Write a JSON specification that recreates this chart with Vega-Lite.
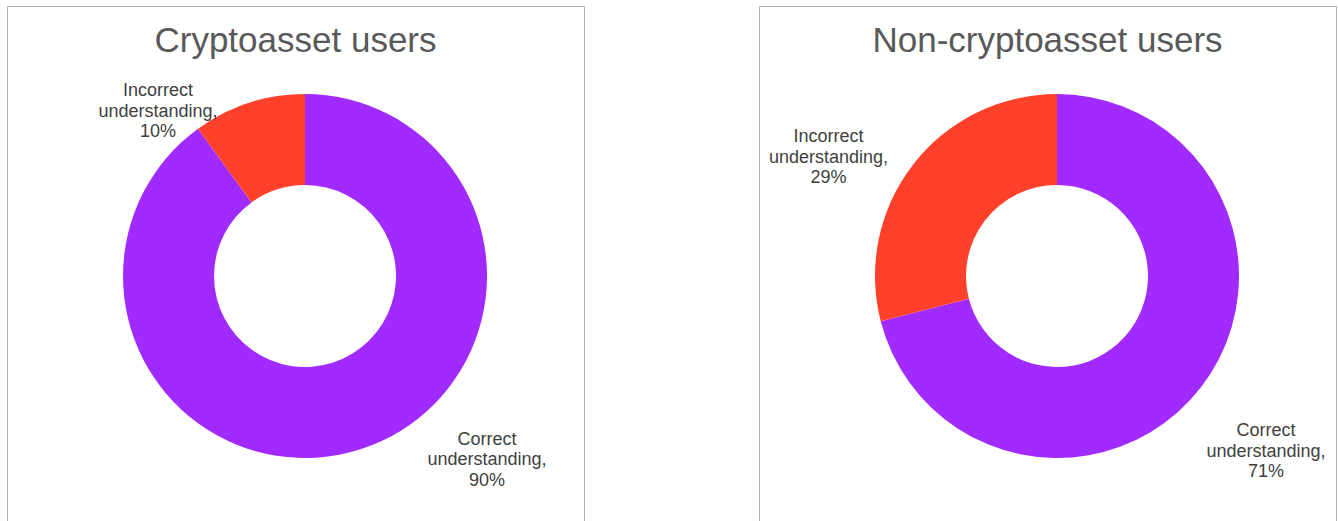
{
  "$schema": "https://vega.github.io/schema/vega-lite/v6.json",
  "padding": {"left": 6, "top": 5, "right": 0, "bottom": 0},
  "spacing": 173,
  "background": "white",
  "config": {
    "view": {"stroke": "#b4b4b4", "strokeWidth": 1},
    "style": {"cell": {"stroke": "#b4b4b4", "strokeWidth": 1}, "view": {"stroke": "#b4b4b4", "strokeWidth": 1}},
    "text": {"font": "Liberation Sans"}
  },
  "datasets": {
    "shares": [
      {"group": "Cryptoasset users", "category": "Correct understanding", "share": 90},
      {"group": "Cryptoasset users", "category": "Incorrect understanding", "share": 10},
      {"group": "Non-cryptoasset users", "category": "Correct understanding", "share": 71},
      {"group": "Non-cryptoasset users", "category": "Incorrect understanding", "share": 29}
    ]
  },
  "hconcat": [
    {
      "width": 577,
      "height": 540,
      "view": {"stroke": "#b4b4b4", "strokeWidth": 1},
      "data": {"name": "shares"},
      "transform": [
        {"filter": "datum.group === 'Cryptoasset users'"},
        {"stack": "share", "groupby": ["group"], "sort": [{"field": "category", "order": "ascending"}], "as": ["s0", "s1"]},
        {"calculate": "(datum.s0 + datum.s1) / 2", "as": "mid"},
        {"calculate": "[split(datum.category, ' ')[0], split(datum.category, ' ')[1] + ',', datum.share + '%']", "as": "label"}
      ],
      "layer": [
        {
          "transform": [{"filter": "datum.category === 'Correct understanding'"}],
          "mark": {"type": "text", "fontSize": 35, "color": "#595959", "dy": -235, "align": "center", "baseline": "middle"},
          "encoding": {"text": {"field": "group", "type": "nominal"}}
        },
        {
          "mark": {"type": "arc", "innerRadius": 91, "outerRadius": 182, "xOffset": 9.5},
          "encoding": {
            "theta": {"field": "s0", "type": "quantitative", "stack": null, "scale": {"domain": [0, 100]}},
            "theta2": {"field": "s1"},
            "color": {"field": "category", "type": "nominal", "legend": null, "scale": {"domain": ["Correct understanding", "Incorrect understanding"], "range": ["#A12BFF", "#FF412C"]}}
          }
        },
        {
          "transform": [{"filter": "datum.category === 'Incorrect understanding'"}],
          "mark": {"type": "text", "fontSize": 18, "lineHeight": 20.5, "color": "#404040", "radius": 222, "dx": -68.9, "dy": 26.6, "align": "center", "baseline": "middle"},
          "encoding": {
            "theta": {"field": "mid", "type": "quantitative", "stack": null, "scale": {"domain": [0, 100]}},
            "text": {"field": "label", "type": "nominal"}
          }
        },
        {
          "transform": [{"filter": "datum.category === 'Correct understanding'"}],
          "mark": {"type": "text", "fontSize": 18, "lineHeight": 20.5, "color": "#404040", "radius": 258, "dx": 111.8, "dy": -81.4, "align": "center", "baseline": "middle"},
          "encoding": {
            "theta": {"field": "mid", "type": "quantitative", "stack": null, "scale": {"domain": [0, 100]}},
            "text": {"field": "label", "type": "nominal"}
          }
        }
      ]
    },
    {
      "width": 577,
      "height": 540,
      "view": {"stroke": "#b4b4b4", "strokeWidth": 1},
      "data": {"name": "shares"},
      "transform": [
        {"filter": "datum.group === 'Non-cryptoasset users'"},
        {"stack": "share", "groupby": ["group"], "sort": [{"field": "category", "order": "ascending"}], "as": ["s0", "s1"]},
        {"calculate": "(datum.s0 + datum.s1) / 2", "as": "mid"},
        {"calculate": "[split(datum.category, ' ')[0], split(datum.category, ' ')[1] + ',', datum.share + '%']", "as": "label"}
      ],
      "layer": [
        {
          "transform": [{"filter": "datum.category === 'Correct understanding'"}],
          "mark": {"type": "text", "fontSize": 35, "color": "#595959", "dy": -235, "align": "center", "baseline": "middle"},
          "encoding": {"text": {"field": "group", "type": "nominal"}}
        },
        {
          "mark": {"type": "arc", "innerRadius": 91, "outerRadius": 182, "xOffset": 9.5},
          "encoding": {
            "theta": {"field": "s0", "type": "quantitative", "stack": null, "scale": {"domain": [0, 100]}},
            "theta2": {"field": "s1"},
            "color": {"field": "category", "type": "nominal", "legend": null, "scale": {"domain": ["Correct understanding", "Incorrect understanding"], "range": ["#A12BFF", "#FF412C"]}}
          }
        },
        {
          "transform": [{"filter": "datum.category === 'Incorrect understanding'"}],
          "mark": {"type": "text", "fontSize": 18, "lineHeight": 20.5, "color": "#404040", "radius": 257, "dx": -15.9, "dy": 19, "align": "center", "baseline": "middle"},
          "encoding": {
            "theta": {"field": "mid", "type": "quantitative", "stack": null, "scale": {"domain": [0, 100]}},
            "text": {"field": "label", "type": "nominal"}
          }
        },
        {
          "transform": [{"filter": "datum.category === 'Correct understanding'"}],
          "mark": {"type": "text", "fontSize": 18, "lineHeight": 20.5, "color": "#404040", "radius": 272, "dx": 3.6, "dy": -11.7, "align": "center", "baseline": "middle"},
          "encoding": {
            "theta": {"field": "mid", "type": "quantitative", "stack": null, "scale": {"domain": [0, 100]}},
            "text": {"field": "label", "type": "nominal"}
          }
        }
      ]
    }
  ]
}
